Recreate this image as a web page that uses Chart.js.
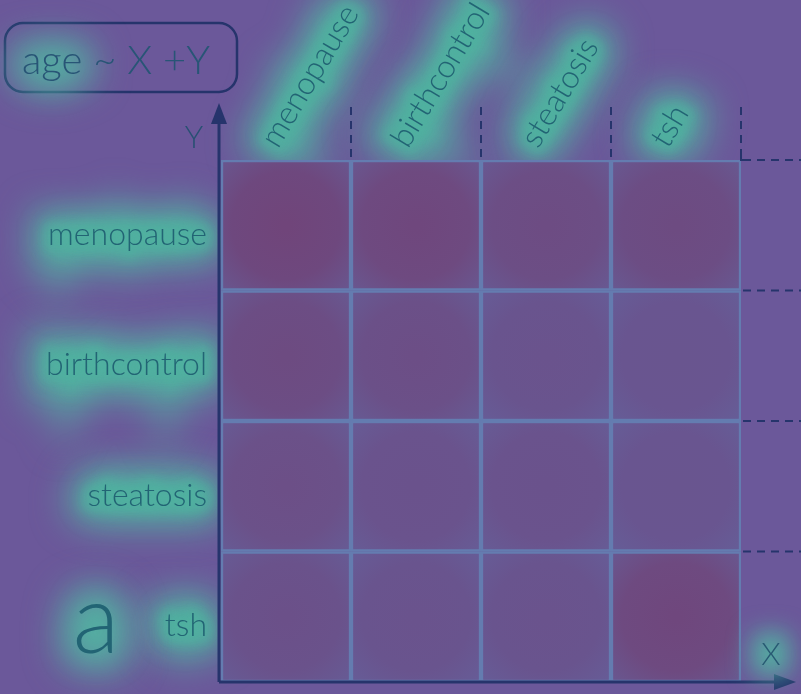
<!DOCTYPE html>
<html>
<head>
<meta charset="utf-8">
<script src="https://cdn.jsdelivr.net/npm/chart.js@4.4.1/dist/chart.umd.min.js"></script>
<style>
  html, body { margin: 0; padding: 0; background: #6b589a; }
  #wrap { position: relative; width: 801px; height: 694px; }
</style>
</head>
<body>
<div id="wrap"><canvas id="c" width="801" height="694"></canvas></div>
<script>
// ---- data ----
const xCategories = ['menopause', 'birthcontrol', 'steatosis', 'tsh'];
const yCategories = ['menopause', 'birthcontrol', 'steatosis', 'tsh'];   // top to bottom
// heat values (0..1), one array per Y row, ordered by xCategories
const rowMenopause    = [0.95, 0.85, 0.65, 0.70];
const rowBirthcontrol = [0.70, 0.55, 0.30, 0.25];
const rowSteatosis    = [0.50, 0.35, 0.35, 0.25];
const rowTsh          = [0.45, 0.30, 0.30, 0.85];
const titleText = 'age ~ X +Y';
const panelLetter = 'a';
const xAxisName = 'X';
const yAxisName = 'Y';

const rows = [rowMenopause, rowBirthcontrol, rowSteatosis, rowTsh];

const weak = [103, 90, 150];
const strong = [112, 68, 120];
const edge = [98, 102, 160];
function mix(v, a, b) { return a.map((w, i) => Math.round(w + (b[i] - w) * v)); }
function rgb(c) { return `rgb(${c[0]},${c[1]},${c[2]})`; }

const FONT = 'Lato';
const TEXT = 'rgb(34,100,116)';
const GLOWFILL = 'rgba(82,180,162,0.95)';
const AXIS = 'rgb(38,52,108)';
const BG = '#6b589a';

function cellFill(ctx, rowFromTop, vals) {
  const chart = ctx.chart;
  const xs = chart.scales.x, ys = chart.scales.y;
  const v = vals[ctx.dataIndex];
  if (!xs || !ys || !chart.chartArea) return rgb(mix(v, weak, strong));
  const cx = xs.getPixelForValue(ctx.dataIndex);
  const cy = ys.getPixelForValue(yCategories.length - rowFromTop - 0.5);
  const g = chart.ctx.createRadialGradient(cx, cy, 4, cx, cy, 95);
  g.addColorStop(0, rgb(mix(v, weak, strong)));
  g.addColorStop(0.55, rgb(mix(v * 0.85, weak, strong)));
  g.addColorStop(1, rgb(mix(0.45, mix(v * 0.6, weak, strong), edge)));
  return g;
}

// stacked bars: bottom dataset first (tsh row) up to top (menopause row)
const datasets = rows.map((vals, r) => ({
  label: yCategories[r],
  data: xCategories.map(() => 1),
  backgroundColor: (c) => cellFill(c, r, vals),
  borderColor: 'rgb(100,124,176)',
  borderWidth: 2.5,
  borderSkipped: false,
  barPercentage: 1,
  categoryPercentage: 1
})).reverse();

function glowText(ctx, text, x, y, opts) {
  ctx.save();
  ctx.font = opts.font;
  ctx.textAlign = opts.align || 'left';
  ctx.textBaseline = opts.baseline || 'alphabetic';
  if (opts.glow !== false) {
    ctx.save();
    ctx.filter = `blur(${opts.blur || 18}px)`;
    ctx.fillStyle = GLOWFILL; ctx.strokeStyle = GLOWFILL;
    ctx.lineWidth = opts.glowWidth || 36; ctx.lineJoin = 'round';
    ctx.strokeText(opts.glowText || text, x, y);
    ctx.fillText(opts.glowText || text, x, y);
    ctx.restore();
  }
  ctx.fillStyle = opts.color || TEXT;
  ctx.fillText(text, x, y);
  ctx.restore();
}

const glowLabels = {
  id: 'glowLabels',
  beforeDraw(chart) {
    Object.values(chart.scales).forEach(scale => {
      if (scale._glowPatched) return;
      const orig = scale.drawLabels.bind(scale);
      scale.drawLabels = function (area) {
        const ctx = this.ctx;
        const items = this.getLabelItems(area);
        ctx.save();
        ctx.filter = 'blur(18px)';
        for (const item of items) {
          const o = Object.assign({}, item.options, { color: GLOWFILL, strokeColor: GLOWFILL, strokeWidth: 36 });
          Chart.helpers.renderText(ctx, item.label, 0, item.textOffset, item.font, o);
        }
        ctx.filter = 'blur(6px)';
        for (const item of items) {
          const o = Object.assign({}, item.options, { color: 'rgba(80,176,160,0.7)', strokeColor: 'rgba(80,176,160,0.7)', strokeWidth: 14 });
          Chart.helpers.renderText(ctx, item.label, 0, item.textOffset, item.font, o);
        }
        ctx.restore();
        orig(area);
      };
      scale._glowPatched = true;
    });
  }
};

const decorations = {
  id: 'decorations',
  beforeDraw(chart) {
    const ctx = chart.ctx;
    ctx.save();
    ctx.fillStyle = BG;
    ctx.fillRect(0, 0, chart.width, chart.height);
    ctx.restore();
  },
  afterDraw(chart) {
    const ctx = chart.ctx;
    const a = chart.chartArea;
    const xs = chart.scales.x, ys = chart.scales.y;
    ctx.save();
    // dashed extensions of the grid
    ctx.strokeStyle = AXIS;
    ctx.lineWidth = 2;
    ctx.setLineDash([8, 6]);
    for (let i = 1; i <= xCategories.length; i++) {
      const bx = i < xCategories.length
        ? Math.round((xs.getPixelForValue(i - 1) + xs.getPixelForValue(i)) / 2)
        : a.right;
      ctx.beginPath(); ctx.moveTo(bx, a.top - 53); ctx.lineTo(bx, a.top - 2); ctx.stroke();
    }
    for (let r = 0; r < yCategories.length; r++) {
      const py = ys.getPixelForValue(yCategories.length - r);
      ctx.beginPath(); ctx.moveTo(a.right + 2, py); ctx.lineTo(chart.width, py); ctx.stroke();
    }
    ctx.setLineDash([]);
    ctx.beginPath(); ctx.moveTo(a.right, a.top - 8); ctx.lineTo(a.right, a.top); ctx.lineTo(a.right + 6, a.top); ctx.stroke();
    // axes with arrows
    ctx.lineWidth = 3;
    ctx.strokeStyle = AXIS; ctx.fillStyle = AXIS;
    const ox = a.left - 2, oy = a.bottom;
    ctx.beginPath(); ctx.moveTo(ox, oy); ctx.lineTo(ox, 120); ctx.stroke();
    ctx.beginPath(); ctx.moveTo(ox, 103); ctx.lineTo(ox - 8, 124); ctx.lineTo(ox + 8, 124); ctx.closePath(); ctx.fill();
    ctx.beginPath(); ctx.moveTo(ox, oy); ctx.lineTo(778, oy); ctx.stroke();
    ctx.beginPath(); ctx.moveTo(796, oy); ctx.lineTo(774, oy - 8); ctx.lineTo(774, oy + 8); ctx.closePath(); ctx.fill();
    ctx.restore();

    // axis names
    glowText(ctx, yAxisName, 194, 148, { font: `300 31px ${FONT}`, align: 'center', glow: false, color: 'rgb(40,80,115)' });
    glowText(ctx, xAxisName, 771, 665, { font: `300 31px ${FONT}`, align: 'center', color: 'rgb(40,90,115)', blur: 12, glowWidth: 22 });
    // panel letter
    glowText(ctx, panelLetter, 96, 653, { font: `300 96px ${FONT}`, align: 'center', glowWidth: 34 });

    // formula box
    ctx.save();
    ctx.strokeStyle = AXIS; ctx.lineWidth = 2.5;
    ctx.beginPath(); ctx.roundRect(5, 23, 232, 69, 18); ctx.stroke();
    ctx.restore();
    glowText(ctx, titleText, 22, 74, { font: `300 40px ${FONT}`, color: 'rgb(40,85,118)', glowText: 'age', glowWidth: 26 });
  }
};

new Chart(document.getElementById('c'), {
  type: 'bar',
  data: { labels: xCategories, datasets },
  options: {
    responsive: false,
    animation: false,
    layout: { padding: { left: 0, right: 60, top: 0, bottom: 12 } },
    plugins: { legend: { display: false }, tooltip: { enabled: false } },
    scales: {
      x: {
        position: 'top',
        stacked: true,
        grid: { display: false, drawTicks: false },
        border: { display: false },
        ticks: {
          minRotation: 59, maxRotation: 59,
          padding: 6,
          labelOffset: 16,
          color: TEXT,
          font: { family: FONT, size: 32, weight: '300' }
        },
        afterFit(s) { s.height = 160; s.paddingLeft = 0; s.paddingRight = 0; }
      },
      y: {
        stacked: true,
        min: 0, max: 4,
        grid: { display: false, drawTicks: false },
        border: { display: false },
        afterBuildTicks(s) {
          s.ticks = yCategories.map((_, i) => ({ value: i + 0.5 }));
        },
        ticks: {
          padding: 14,
          labelOffset: 9,
          color: TEXT,
          font: { family: FONT, size: 32, weight: '300' },
          callback(v) { return yCategories[yCategories.length - 1 - Math.floor(v)]; }
        },
        afterFit(s) { s.width = 221; s.paddingTop = 0; s.paddingBottom = 0; }
      }
    }
  },
  plugins: [decorations, glowLabels]
});
</script>
</body>
</html>
